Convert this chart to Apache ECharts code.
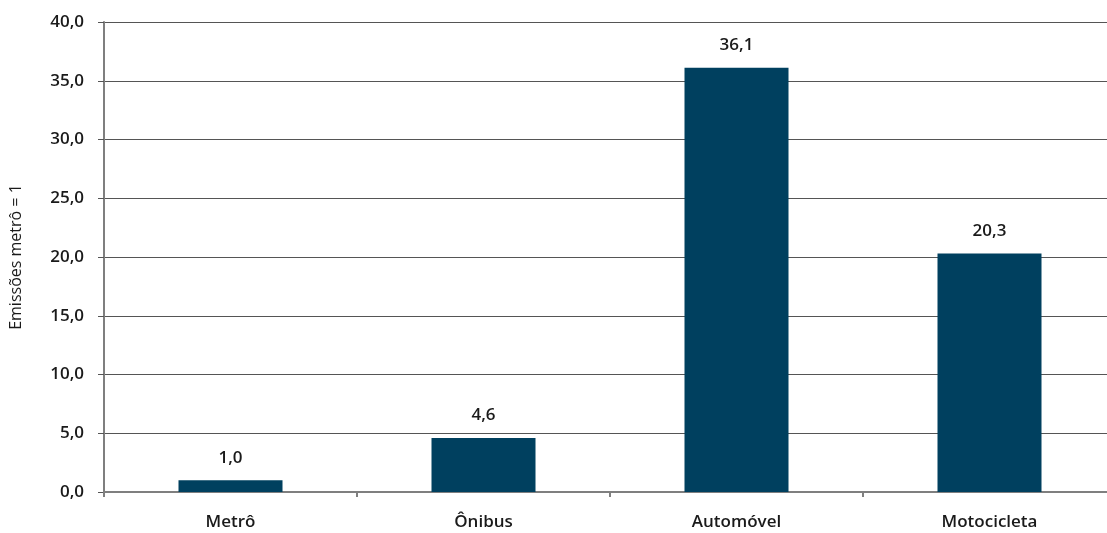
<!DOCTYPE html>
<html>
<head>
<meta charset="utf-8">
<script src="https://cdn.jsdelivr.net/npm/echarts@6/dist/echarts.min.js"></script>
<style>
  html, body { margin: 0; padding: 0; background: #fff; overflow: hidden; }
  #chart { width: 1116px; height: 533px; }
</style>
</head>
<body>
<div id="chart"></div>
<script>
const categories = ['Metrô', 'Ônibus', 'Automóvel', 'Motocicleta']
const values = [1.0, 4.6, 36.1, 20.3]
const axisTitle = 'Emissões metrô = 1'

const fmt = v => v.toFixed(1).replace('.', ',')
const font = '"Open Sans", "Noto Sans", sans-serif'

const chart = echarts.init(document.getElementById('chart'))
chart.setOption({
  backgroundColor: '#fff',
  animation: false,
  grid: { left: 102, right: 0, top: 22, bottom: 41 },
  xAxis: {
    type: 'category',
    data: categories,
    axisLine: { lineStyle: { color: '#7f7f7f', width: 2 } },
    axisTick: { show: true, length: 5, lineStyle: { color: '#7f7f7f', width: 2 } },
    axisLabel: { color: '#1a1a1a', fontSize: 17, fontWeight: 600, fontFamily: font, margin: 22 }
  },
  yAxis: {
    type: 'value',
    min: 0,
    max: 40,
    interval: 5,
    name: axisTitle,
    nameLocation: 'middle',
    nameGap: 80,
    nameTextStyle: { color: '#1a1a1a', fontSize: 16, fontWeight: 500, fontFamily: font },
    axisLine: { show: true, lineStyle: { color: '#7f7f7f', width: 2 } },
    axisTick: { show: true, length: 6, lineStyle: { color: '#555' } },
    axisLabel: { color: '#1a1a1a', fontSize: 17, fontWeight: 600, fontFamily: font, margin: 20, formatter: fmt },
    splitLine: { lineStyle: { color: '#555', width: 1 } }
  },
  series: [{
    type: 'bar',
    data: values,
    barWidth: 104,
    itemStyle: { color: '#00405f' },
    label: {
      show: true,
      position: 'top',
      distance: 14,
      color: '#1a1a1a',
      fontSize: 17,
      fontWeight: 600,
      fontFamily: font,
      formatter: p => fmt(p.value)
    }
  }]
})
</script>
</body>
</html>
